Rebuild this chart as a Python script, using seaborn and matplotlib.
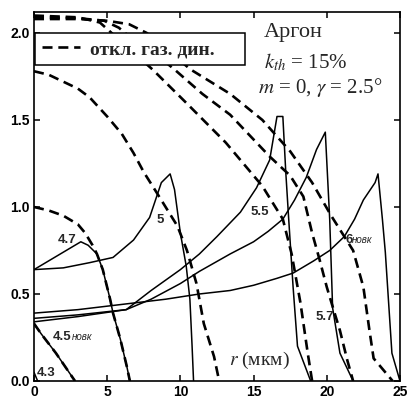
import numpy as np
import pandas as pd
import matplotlib
matplotlib.use("Agg")
import matplotlib.pyplot as plt
import seaborn as sns

sns.set_theme(style="ticks")
plt.rcParams['font.family'] = ['Liberation Sans', 'DejaVu Sans']
plt.rcParams['mathtext.fontset'] = 'stix'

# solid curves (labels = curve names on the chart)
s43_x = [0, 0.25]
s43_y = [0.05, 0]
s45_x = [0, 0.5, 1.5, 2.8]
s45_y = [0.33, 0.27, 0.16, 0]
s47_x = [0, 3.2, 3.7, 4.3, 4.7, 5.2, 5.4, 5.9, 6.35, 6.55]
s47_y = [0.64, 0.80, 0.78, 0.73, 0.64, 0.47, 0.39, 0.24, 0.08, 0]
s5_x = [0, 2, 3.8, 5.4, 6.8, 7.9, 8.7, 9.3, 9.6, 10.0, 10.4, 10.65, 10.8, 10.9]
s5_y = [0.64, 0.65, 0.68, 0.71, 0.81, 0.94, 1.14, 1.19, 1.1, 0.85, 0.66, 0.47, 0.2, 0]
s55_x = [0, 3, 6.3, 8, 10, 11.3, 12.5, 14.1, 15.2, 16.1, 16.6, 17.0, 17.2, 17.4, 17.7, 18.0, 18.9]
s55_y = [0.36, 0.38, 0.41, 0.52, 0.64, 0.73, 0.83, 0.97, 1.11, 1.27, 1.52, 1.52, 1.2, 0.93, 0.54, 0.2, 0]
s57_x = [0, 3, 6.3, 8, 10, 11.3, 13.4, 15, 16, 17, 17.8, 18.6, 19.3, 19.9, 20.2, 20.4, 20.9, 21.8]
s57_y = [0.34, 0.37, 0.41, 0.47, 0.56, 0.63, 0.73, 0.8, 0.86, 0.93, 1.04, 1.17, 1.33, 1.43, 0.93, 0.42, 0.16, 0]
s6_x = [0, 3, 6, 9, 11.3, 13.4, 15, 16.6, 17.7, 19.1, 20.2, 21.2, 21.9, 22.5, 23.3, 23.5, 23.8, 24.0, 24.45, 25.0]
s6_y = [0.39, 0.41, 0.44, 0.47, 0.5, 0.52, 0.55, 0.59, 0.62, 0.69, 0.75, 0.83, 0.93, 1.04, 1.14, 1.19, 0.93, 0.74, 0.16, 0]

# dashed curves: gas dynamics switched off
d45_x = [0, 0.5, 1.5, 2.8]
d45_y = [0.33, 0.27, 0.16, 0]
d47_x = [0, 1, 2, 3, 3.5, 4.0, 4.3, 4.7, 5.2, 5.4, 5.9, 6.35, 6.55]
d47_y = [1.0, 0.98, 0.95, 0.9, 0.85, 0.78, 0.73, 0.64, 0.47, 0.39, 0.24, 0.08, 0]
d5_x = [0, 1, 2, 3, 3.8, 5, 6, 6.8, 7.5, 8.4, 9.8, 10.45, 11.1, 11.6, 12.3, 12.65]
d5_y = [1.78, 1.76, 1.72, 1.68, 1.63, 1.52, 1.42, 1.31, 1.2, 1.08, 0.89, 0.75, 0.56, 0.33, 0.14, 0]
d55_x = [0, 3, 4.5, 5.3, 8.1, 10.5, 13.1, 15.6, 17.0, 17.6, 18.2, 18.7, 19.0]
d55_y = [2.1, 2.09, 2.06, 2.0, 1.79, 1.59, 1.37, 1.12, 0.93, 0.73, 0.45, 0.16, 0]
d57_x = [0, 3, 4.8, 5.8, 6.2, 8, 9.6, 11.5, 13.4, 16.1, 17.5, 18.4, 19.0, 19.5, 20.0, 20.5, 20.9, 21.4, 21.8]
d57_y = [2.09, 2.085, 2.07, 2.03, 2.0, 1.9, 1.79, 1.65, 1.53, 1.29, 1.18, 1.06, 0.85, 0.7, 0.54, 0.4, 0.29, 0.12, 0]
d6_x = [0, 3, 5, 6.5, 7.7, 10.7, 13.4, 15.6, 17.5, 19, 20.3, 21.2, 21.8, 22.5, 22.9, 23.2, 24.5]
d6_y = [2.08, 2.08, 2.07, 2.05, 2.0, 1.79, 1.65, 1.5, 1.32, 1.14, 0.95, 0.83, 0.75, 0.54, 0.3, 0.13, 0]

solid = [(s43_x, s43_y), (s45_x, s45_y), (s47_x, s47_y), (s5_x, s5_y),
         (s55_x, s55_y), (s57_x, s57_y), (s6_x, s6_y)]
dashed = [(d45_x, d45_y), (d47_x, d47_y), (d5_x, d5_y),
          (d55_x, d55_y), (d57_x, d57_y), (d6_x, d6_y)]

fig = plt.figure(figsize=(4.08, 4.01), dpi=100)
ax = fig.add_axes([0.0833, 0.0499, 0.897, 0.920])

for xs, ys in solid:
    sns.lineplot(x=xs, y=ys, ax=ax, color='black', lw=1.1, sort=False, estimator=None)

for i, (xs, ys) in enumerate(dashed):
    sns.lineplot(x=xs, y=ys, ax=ax, color='black', lw=1.9, sort=False, estimator=None,
                 dashes=False, linestyle=(0, (3.8, 2.2)),
                 label='откл. газ. дин.' if i == 0 else None)

ax.set_xlim(0, 25)
ax.set_ylim(0, 2.12)
ax.set_xticks([0, 5, 10, 15, 20, 25])
ax.set_yticks([0.0, 0.5, 1.0, 1.5, 2.0])
ax.set_yticklabels(['0.0', '0.5', '1.0', '1.5', '2.0'])
ax.tick_params(direction='in', length=4, width=1.1, top=True, right=True,
               labelsize=10, pad=3, colors='black')
for lab in ax.get_xticklabels() + ax.get_yticklabels():
    lab.set_fontweight('bold')
for sp in ax.spines.values():
    sp.set_linewidth(1.2)
    sp.set_color('black')
ax.set_xlabel('')
ax.set_ylabel('')

# legend box spans roughly r = 0..14.4, y = 1.8..2.0
leg = ax.legend(loc='upper left', bbox_to_anchor=(0.003, 0.848, 0.574, 0.095),
                mode='expand', borderaxespad=0,
                borderpad=0.38, handlelength=1.95, handletextpad=0.5,
                fancybox=False, framealpha=1, edgecolor='black',
                prop={'family': 'Liberation Serif', 'weight': 'bold', 'size': 14})
leg.get_frame().set_linewidth(1.1)

serif = ['Liberation Serif', 'DejaVu Serif']
ax.text(15.7, 2.0, 'Аргон', family=serif, fontsize=16, va='center')
ax.text(15.7, 1.833, '$k_{th}$ = 15%', family=serif, fontsize=15, va='center')
ax.text(15.3, 1.684, '$m$ = 0, $\\gamma$ = 2.5°', family=serif, fontsize=15, va='center')
ax.text(13.3, 0.12, '$r$ (мкм)', family=serif, fontsize=14, va='center')

num = dict(fontsize=9.5, fontweight='bold', va='center')
small = dict(fontsize=7, fontstyle='italic', va='center')
ax.text(0.2, 0.045, '4.3', **num)
ax.text(1.3, 0.25, '4.5', **num)
ax.text(2.6, 0.25, 'новк', **small)
ax.text(1.65, 0.81, '4.7', **num)
ax.text(8.4, 0.925, '5', **num)
ax.text(14.8, 0.97, '5.5', **num)
ax.text(19.2, 0.37, '5.7', **num)
ax.text(21.25, 0.81, '6', **num)
ax.text(21.7, 0.81, 'новк', **small)

fig.savefig('out.png', dpi=100)
